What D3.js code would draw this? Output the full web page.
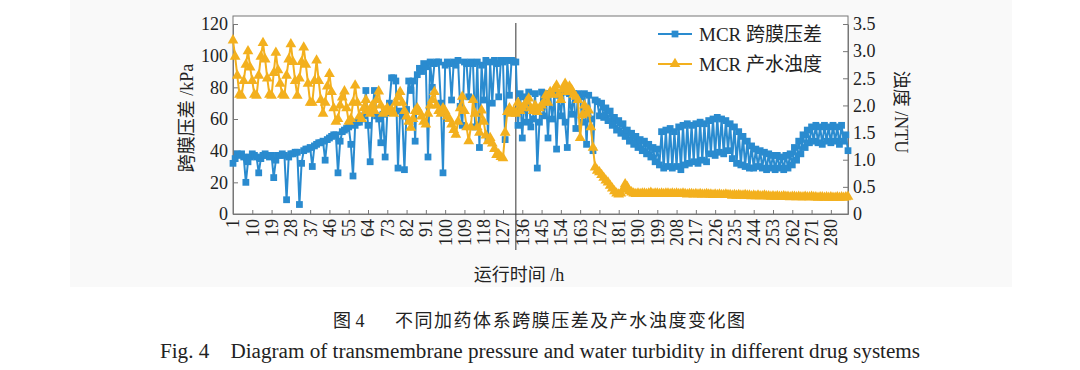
<!DOCTYPE html>
<html>
<head>
<meta charset="utf-8">
<script src="https://cdnjs.cloudflare.com/ajax/libs/d3/7.8.5/d3.min.js"></script>
<style>
	body { margin: 0; background: #fff; }
	svg { display: block; }
	text { font-family: 'Liberation Serif', 'Noto Sans CJK SC', serif; fill: #222; }
</style>
</head>
<body>
<div id="chart"></div>
<script>
// 跨膜压差 (kPa), one value per hour 1..288
var pressure = [
	32, 35, 38, 37, 38, 36, 20, 33, 36, 38, 37, 36,
	26, 35, 37, 38, 37, 36, 37, 23, 34, 37, 37, 38,
	37, 9, 36, 38, 38, 39, 39, 6, 32, 40, 41, 41,
	42, 30, 43, 44, 45, 45, 46, 34, 47, 48, 49, 50,
	50, 26, 46, 52, 53, 54, 55, 44, 24, 56, 58, 58,
	60, 62, 78, 56, 33, 64, 78, 62, 60, 45, 63, 36,
	64, 70, 86, 86, 84, 29, 65, 62, 28, 66, 84, 78,
	84, 46, 88, 92, 90, 95, 93, 36, 96, 80, 95, 96,
	96, 70, 26, 94, 96, 95, 72, 96, 94, 97, 68, 56,
	96, 95, 74, 96, 95, 55, 96, 42, 94, 72, 97, 48,
	96, 70, 97, 95, 74, 97, 96, 47, 97, 75, 97, 96,
	96, 56, 76, 48, 74, 58, 77, 55, 60, 76, 29, 58,
	77, 62, 76, 48, 76, 60, 76, 41, 75, 62, 77, 58,
	42, 76, 63, 76, 54, 76, 74, 58, 76, 44, 75, 60,
	40, 72, 71, 62, 70, 61, 67, 59, 65, 56, 61, 53,
	59, 51, 57, 49, 53, 46, 51, 44, 49, 42, 47, 40,
	46, 38, 44, 36, 42, 33, 41, 31, 52, 29, 53, 30,
	54, 29, 52, 30, 55, 28, 56, 31, 57, 32, 56, 33,
	57, 32, 58, 34, 57, 33, 59, 38, 60, 37, 61, 39,
	60, 38, 59, 40, 57, 35, 55, 32, 52, 31, 49, 30,
	46, 29, 43, 29, 41, 30, 40, 29, 39, 28, 38, 29,
	37, 28, 37, 29, 36, 28, 37, 29, 38, 31, 42, 34,
	46, 38, 50, 42, 53, 45, 55, 46, 56, 45, 55, 44,
	56, 46, 55, 45, 56, 46, 55, 44, 56, 46, 50, 40
];

// 产水浊度 (NTU)
var turbidity = [
	3.20, 2.90, 2.55, 2.20, 2.18, 2.45, 2.75, 3.00, 2.70, 2.45, 2.20, 2.18,
	2.55, 2.90, 3.15, 2.85, 2.50, 2.20, 2.18, 2.60, 2.97, 2.65, 2.40, 2.20,
	2.18, 2.55, 2.85, 3.13, 2.80, 2.45, 2.18, 2.50, 2.80, 3.07, 2.75, 2.40,
	2.05, 2.05, 2.45, 2.83, 2.45, 2.10, 1.85, 2.05, 2.35, 2.58, 2.25, 1.95,
	1.70, 1.75, 2.00, 2.15, 2.26, 1.95, 1.70, 1.75, 2.05, 2.37, 2.05, 1.80,
	1.75, 1.95, 2.10, 1.90, 1.85, 2.00, 1.90, 2.10, 2.26, 2.00, 1.85, 1.90,
	1.95, 1.88, 1.92, 1.85, 2.05, 2.15, 2.25, 2.05, 1.90, 1.80, 1.70, 1.59,
	1.75, 1.90, 1.95, 1.88, 1.80, 1.70, 1.65, 1.85, 2.00, 2.10, 2.25, 2.00,
	1.90, 1.85, 1.95, 1.90, 1.80, 1.75, 1.65, 1.55, 1.46, 1.70, 1.95, 2.16,
	1.90, 1.60, 1.34, 1.60, 2.10, 1.85, 1.60, 1.50, 1.91, 1.70, 1.45, 1.34,
	1.40, 1.30, 1.20, 1.09, 1.10, 1.05, 1.03, 1.50, 1.88, 1.95, 1.85, 1.90,
	1.85, 2.05, 1.90, 1.95, 2.00, 2.07, 2.13, 1.95, 1.90, 2.00, 1.88, 1.95,
	2.00, 2.05, 2.19, 2.05, 2.25, 2.20, 2.30, 2.37, 2.20, 2.10, 2.30, 2.40,
	2.25, 2.35, 2.29, 2.20, 2.16, 2.10, 1.40, 1.82, 2.00, 1.85, 1.91, 1.60,
	1.22, 0.86, 0.80, 0.77, 0.72, 0.67, 0.62, 0.58, 0.52, 0.47, 0.42, 0.38,
	0.36, 0.38, 0.45, 0.55, 0.50, 0.42, 0.40, 0.38, 0.37, 0.38, 0.37, 0.38,
	0.38, 0.37, 0.38, 0.39, 0.37, 0.38, 0.38, 0.37, 0.38, 0.37, 0.38, 0.38,
	0.37, 0.38, 0.37, 0.38, 0.37, 0.37, 0.38, 0.37, 0.36, 0.37, 0.37, 0.36,
	0.37, 0.36, 0.37, 0.36, 0.36, 0.37, 0.36, 0.36, 0.35, 0.36, 0.35, 0.36,
	0.35, 0.35, 0.36, 0.35, 0.35, 0.34, 0.35, 0.34, 0.35, 0.34, 0.34, 0.35,
	0.34, 0.34, 0.33, 0.34, 0.33, 0.34, 0.33, 0.33, 0.34, 0.33, 0.33, 0.32,
	0.33, 0.32, 0.33, 0.32, 0.32, 0.33, 0.32, 0.32, 0.31, 0.32, 0.32, 0.31,
	0.32, 0.31, 0.31, 0.32, 0.31, 0.31, 0.32, 0.31, 0.31, 0.30, 0.31, 0.31,
	0.30, 0.31, 0.30, 0.31, 0.30, 0.30, 0.31, 0.30, 0.31, 0.30, 0.31, 0.32
];

var hourTicks = [1, 10, 19, 28, 37, 46, 55, 64, 73, 82, 91, 100, 109, 118, 127, 136, 145, 154, 163, 172, 181, 190, 199, 208, 217, 226, 235, 244, 253, 262, 271, 280];
var pressureTicks = [0, 20, 40, 60, 80, 100, 120];
var turbidityTicks = [0, 0.5, 1.0, 1.5, 2.0, 2.5, 3.0, 3.5];
var stageHour = 133;
var seriesNames = ['MCR 跨膜压差', 'MCR 产水浊度'];

var blue = '#2a8bcf';
var orange = '#f3b01e';

var svg = d3.select('#chart').append('svg').attr('width', 1080).attr('height', 370);

svg.append('rect')
	.attr('x', 70).attr('y', 0)
	.attr('width', 942).attr('height', 287)
	.attr('fill', '#f9f9f9');

var xScale = d3.scaleLinear().domain([1, pressure.length]).range([233, 848]);
var yLeft = d3.scaleLinear().domain([0, 120]).range([214, 24]);
var yRight = d3.scaleLinear().domain([0, 3.5]).range([214, 24]);

// frame
svg.append('rect')
	.attr('x', 233).attr('y', 16)
	.attr('width', 615).attr('height', 198)
	.attr('fill', '#fff')
	.attr('stroke', '#777')
	.attr('stroke-width', 1);

var xAxis = d3.axisBottom(xScale).tickValues(hourTicks).tickSizeInner(-4).tickSizeOuter(0).tickFormat(d3.format('d'));
var yAxisL = d3.axisLeft(yLeft).tickValues(pressureTicks).tickSizeInner(-5).tickSizeOuter(0);
var yAxisR = d3.axisRight(yRight).tickValues(turbidityTicks).tickSizeInner(-5).tickSizeOuter(0).tickFormat(function(d) { return d === 0 ? '0' : d3.format('.1f')(d); });

var xAxisG = svg.append('g').attr('transform', 'translate(0,214)').call(xAxis);
xAxisG.selectAll('text')
	.attr('transform', 'translate(0,5) rotate(-90)')
	.attr('x', 0).attr('y', 0).attr('dy', '0.33em')
	.attr('text-anchor', 'end');

var yAxisLG = svg.append('g').attr('transform', 'translate(233,0)').call(yAxisL);
var yAxisRG = svg.append('g').attr('transform', 'translate(848,0)').call(yAxisR);

[xAxisG, yAxisLG, yAxisRG].forEach(function(g) {
	g.select('.domain').attr('stroke', '#777');
	g.selectAll('.tick line').attr('stroke', '#777');
	g.selectAll('text').style('font-size', '18px').attr('fill', '#222');
});
yAxisLG.selectAll('text').attr('x', -5);
yAxisRG.selectAll('text').attr('x', 5);

// stage divider
svg.append('line')
	.attr('x1', xScale(stageHour)).attr('x2', xScale(stageHour))
	.attr('y1', 23).attr('y2', 250)
	.attr('stroke', '#333').attr('stroke-width', 1);

var lineP = d3.line()
	.x(function(d, i) { return xScale(i + 1); })
	.y(function(d) { return yLeft(d); });
var lineT = d3.line()
	.x(function(d, i) { return xScale(i + 1); })
	.y(function(d) { return yRight(d); });

var square = d3.symbol().type(d3.symbolSquare).size(46);
var triangle = d3.symbol().type(d3.symbolTriangle).size(50);

svg.append('path')
	.attr('d', lineP(pressure))
	.attr('fill', 'none').attr('stroke', blue).attr('stroke-width', 2);
svg.append('g').selectAll('path')
	.data(pressure).enter().append('path')
	.attr('d', square)
	.attr('transform', function(d, i) { return 'translate(' + xScale(i + 1) + ',' + yLeft(d) + ')'; })
	.attr('fill', blue);

svg.append('path')
	.attr('d', lineT(turbidity))
	.attr('fill', 'none').attr('stroke', orange).attr('stroke-width', 2);
svg.append('g').selectAll('path')
	.data(turbidity).enter().append('path')
	.attr('d', triangle)
	.attr('transform', function(d, i) { return 'translate(' + xScale(i + 1) + ',' + yRight(d) + ')'; })
	.attr('fill', orange);

// legend
var legend = svg.append('g');
[blue, orange].forEach(function(c, k) {
	var ly = 34 + k * 30;
	legend.append('line')
		.attr('x1', 658).attr('x2', 692).attr('y1', ly).attr('y2', ly)
		.attr('stroke', c).attr('stroke-width', 2);
	legend.append('path')
		.attr('d', k === 0 ? square : triangle)
		.attr('transform', 'translate(675,' + ly + ')')
		.attr('fill', c);
	legend.append('text')
		.attr('x', 699).attr('y', ly + 7)
		.style('font-size', '19px')
		.text(seriesNames[k]);
});

// axis titles
svg.append('text')
	.attr('transform', 'translate(193,118) rotate(-90)')
	.attr('text-anchor', 'middle')
	.style('font-size', '18px')
	.text('跨膜压差 /kPa');

svg.append('text')
	.attr('transform', 'translate(895,112) rotate(90)')
	.attr('text-anchor', 'middle')
	.style('font-size', '18px')
	.text('浊度 /NTU');

svg.append('text')
	.attr('x', 519).attr('y', 281)
	.attr('text-anchor', 'middle')
	.style('font-size', '18px')
	.text('运行时间 /h');

// caption
var cap = svg.append('text')
	.attr('y', 327)
	.style('font-size', '18px');
cap.append('tspan').attr('x', 333).text('图 4');
cap.append('tspan').attr('x', 395).attr('textLength', 350).attr('lengthAdjust', 'spacing').text('不同加药体系跨膜压差及产水浊度变化图');

svg.append('text')
	.attr('x', 160).attr('y', 358)
	.attr('textLength', 760).attr('lengthAdjust', 'spacingAndGlyphs')
	.style('font-size', '20px')
	.attr('xml:space', 'preserve')
	.text('Fig. 4    Diagram of transmembrane pressure and water turbidity in different drug systems');
</script>
</body>
</html>
